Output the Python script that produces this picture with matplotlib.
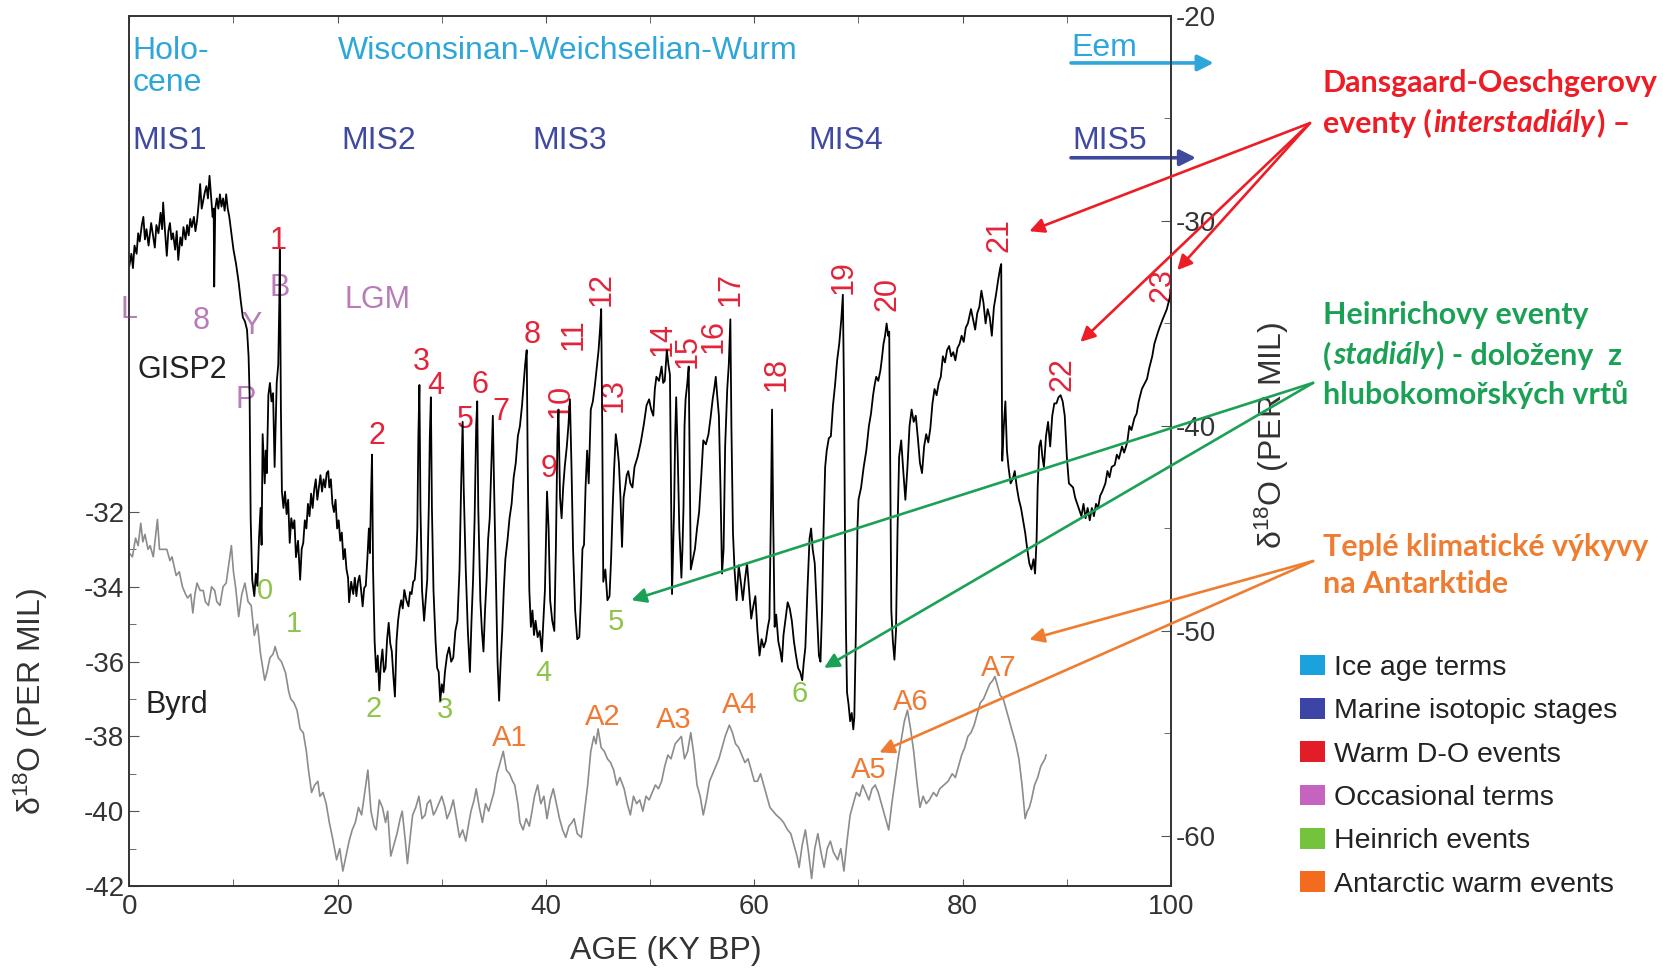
import matplotlib
matplotlib.use("Agg")
import matplotlib.pyplot as plt
from matplotlib.patches import Patch

plt.rcParams['font.family'] = ['Liberation Sans', 'DejaVu Sans']
plt.rcParams['mathtext.fontset'] = 'custom'
plt.rcParams['mathtext.rm'] = 'Liberation Sans'
plt.rcParams['mathtext.default'] = 'rm'
plt.rcParams['axes.unicode_minus'] = False

# GISP2 (Greenland) d18O, right axis; age in ky BP
gisp_age = [0.0, 0.2, 0.35, 0.5, 0.7, 0.85, 1.0, 1.2, 1.35, 1.5, 1.65, 1.85, 2.1, 2.3, 2.45, 2.6, 2.8, 3.0, 3.15, 3.25,
            3.4, 3.6, 3.75, 3.9, 4.05, 4.2, 4.4, 4.55, 4.7, 4.9, 5.05, 5.2, 5.4, 5.55, 5.7, 5.85, 6.0, 6.2, 6.35, 6.5,
            6.65, 6.8, 6.95, 7.1, 7.25, 7.4, 7.55, 7.7, 7.85, 8.0, 8.1, 8.15, 8.25, 8.4, 8.55, 8.7, 8.85, 9.0, 9.15, 9.3,
            9.45, 9.6, 9.8, 10.0, 10.25, 10.5, 10.7, 10.9, 11.1, 11.3, 11.45, 11.55, 11.65, 11.8, 12.0, 12.15, 12.3, 12.45, 12.6, 12.7,
            12.8, 13.0, 13.1, 13.2, 13.35, 13.5, 13.65, 13.8, 13.95, 14.05, 14.15, 14.3, 14.4, 14.45, 14.55, 14.65, 14.8, 14.95, 15.1, 15.25,
            15.4, 15.55, 15.7, 15.85, 16.0, 16.2, 16.4, 16.55, 16.7, 16.85, 17.0, 17.15, 17.3, 17.45, 17.6, 17.75, 17.9, 18.05, 18.2, 18.35,
            18.5, 18.65, 18.8, 18.95, 19.1, 19.2, 19.35, 19.5, 19.65, 19.8, 19.95, 20.1, 20.25, 20.4, 20.55, 20.7, 20.85, 21.0, 21.1, 21.3,
            21.5, 21.65, 21.8, 21.95, 22.1, 22.25, 22.4, 22.55, 22.7, 22.85, 23.0, 23.1, 23.2, 23.3, 23.4, 23.55, 23.7, 23.85, 24.0, 24.15,
            24.3, 24.45, 24.6, 24.75, 24.9, 25.05, 25.2, 25.35, 25.5, 25.65, 25.8, 25.95, 26.1, 26.25, 26.4, 26.6, 26.8, 26.95, 27.1, 27.25,
            27.4, 27.55, 27.65, 27.75, 27.85, 27.95, 28.1, 28.3, 28.45, 28.6, 28.75, 28.85, 28.95, 29.05, 29.2, 29.4, 29.55, 29.7, 29.85, 30.0,
            30.15, 30.3, 30.5, 30.7, 30.9, 31.1, 31.3, 31.5, 31.7, 31.85, 32.0, 32.1, 32.3, 32.5, 32.7, 32.85, 33.0, 33.15, 33.3, 33.4,
            33.5, 33.7, 33.85, 34.0, 34.15, 34.3, 34.45, 34.6, 34.75, 34.9, 35.0, 35.2, 35.35, 35.5, 35.65, 35.8, 35.95, 36.1, 36.3, 36.5,
            36.7, 36.9, 37.1, 37.3, 37.5, 37.7, 37.85, 38.0, 38.15, 38.25, 38.4, 38.55, 38.7, 38.85, 39.0, 39.2, 39.4, 39.6, 39.75, 39.9,
            40.0, 40.1, 40.25, 40.4, 40.6, 40.8, 40.95, 41.1, 41.2, 41.35, 41.5, 41.65, 41.8, 42.0, 42.15, 42.3, 42.45, 42.6, 42.8, 43.0,
            43.2, 43.35, 43.5, 43.65, 43.8, 43.95, 44.1, 44.3, 44.5, 44.7, 44.9, 45.05, 45.2, 45.3, 45.4, 45.5, 45.7, 45.9, 46.1, 46.25,
            46.4, 46.55, 46.7, 46.85, 47.0, 47.15, 47.3, 47.45, 47.6, 47.75, 47.9, 48.1, 48.3, 48.5, 48.8, 49.1, 49.4, 49.65, 49.9, 50.1,
            50.3, 50.45, 50.6, 50.85, 51.1, 51.25, 51.4, 51.6, 51.75, 51.9, 52.0, 52.1, 52.2, 52.3, 52.4, 52.5, 52.65, 52.8, 53.0, 53.1,
            53.2, 53.3, 53.4, 53.55, 53.7, 53.8, 53.9, 54.1, 54.3, 54.5, 54.7, 54.9, 55.1, 55.35, 55.6, 55.8, 56.0, 56.15, 56.3, 56.45,
            56.6, 56.75, 56.9, 57.05, 57.2, 57.4, 57.55, 57.7, 57.8, 57.95, 58.1, 58.3, 58.5, 58.7, 58.9, 59.1, 59.3, 59.5, 59.7, 59.9,
            60.1, 60.3, 60.5, 60.7, 60.9, 61.1, 61.3, 61.45, 61.6, 61.7, 61.8, 61.95, 62.1, 62.3, 62.5, 62.65, 62.8, 63.0, 63.2, 63.4,
            63.6, 63.8, 64.0, 64.2, 64.4, 64.6, 64.75, 64.9, 65.1, 65.3, 65.45, 65.6, 65.8, 66.0, 66.2, 66.35, 66.5, 66.65, 66.8, 66.95,
            67.15, 67.35, 67.55, 67.75, 67.95, 68.15, 68.35, 68.5, 68.6, 68.7, 68.8, 68.9, 69.05, 69.2, 69.35, 69.5, 69.6, 69.75, 69.9, 70.0,
            70.25, 70.5, 70.75, 71.0, 71.2, 71.4, 71.55, 71.7, 71.9, 72.1, 72.25, 72.4, 72.55, 72.7, 72.85, 72.95, 73.05, 73.15, 73.3, 73.45,
            73.6, 73.75, 73.9, 74.1, 74.3, 74.5, 74.7, 74.9, 75.1, 75.3, 75.5, 75.7, 75.9, 76.1, 76.3, 76.5, 76.7, 76.9, 77.1, 77.3,
            77.5, 77.7, 77.9, 78.1, 78.3, 78.5, 78.7, 78.9, 79.1, 79.3, 79.5, 79.7, 79.9, 80.1, 80.3, 80.5, 80.8, 81.0, 81.2, 81.4,
            81.6, 81.8, 82.0, 82.2, 82.4, 82.6, 82.8, 83.0, 83.2, 83.4, 83.6, 83.7, 83.8, 83.95, 84.1, 84.25, 84.4, 84.6, 84.8, 85.0,
            85.2, 85.4, 85.6, 85.8, 86.0, 86.2, 86.4, 86.6, 86.8, 86.95, 87.1, 87.2, 87.35, 87.5, 87.65, 87.8, 88.0, 88.2, 88.4, 88.6,
            88.8, 89.0, 89.2, 89.4, 89.6, 89.8, 90.0, 90.2, 90.4, 90.6, 90.8, 91.0, 91.2, 91.4, 91.6, 91.8, 92.0, 92.2, 92.4, 92.6,
            92.8, 93.0, 93.2, 93.4, 93.7, 93.9, 94.1, 94.3, 94.6, 94.8, 95.0, 95.3, 95.5, 95.8, 96.0, 96.2, 96.5, 96.7, 96.9, 97.2,
            97.4, 97.7, 97.9, 98.2, 98.4, 98.7, 98.9, 99.2, 99.6, 100.0]
gisp_d18o = [-32.2, -31.6, -32.3, -31.2, -31.6, -30.6, -31.0, -30.2, -29.8, -30.9, -30.4, -31.2, -30.1, -30.8, -31.3, -30.2, -30.6, -29.6, -30.4, -29.1,
             -30.3, -31.7, -30.5, -30.1, -30.9, -30.6, -31.4, -30.5, -31.9, -30.8, -31.2, -30.3, -30.9, -30.2, -30.7, -29.9, -30.3, -29.8, -30.5, -30.0,
             -29.2, -28.2, -29.4, -29.0, -28.6, -28.3, -28.9, -27.8, -28.8, -29.8, -29.4, -33.2, -29.4, -28.9, -29.4, -28.7, -29.3, -28.9, -29.5, -28.7,
             -29.4, -29.8, -30.6, -31.4, -32.1, -33.0, -33.9, -34.7, -34.9, -35.3, -36.6, -38.5, -44.5, -47.5, -48.3, -47.2, -47.8, -45.5, -44.0, -45.8,
             -40.4, -42.8, -41.2, -42.3, -38.5, -37.9, -38.8, -38.4, -42.0, -40.0, -37.9, -37.0, -34.0, -31.4, -39.0, -43.2, -44.0, -43.2, -44.3, -43.6,
             -45.7, -44.5, -45.0, -44.6, -46.4, -45.6, -47.5, -46.0, -45.7, -44.6, -45.0, -43.8, -44.4, -43.3, -44.0, -43.1, -42.6, -43.6, -43.0, -42.4,
             -43.2, -42.6, -43.0, -42.3, -42.2, -43.0, -42.6, -43.8, -44.2, -43.6, -45.0, -44.6, -45.6, -45.2, -46.5, -46.0, -47.0, -47.4, -48.6, -47.6,
             -48.2, -47.4, -48.3, -47.6, -47.3, -48.0, -48.8, -47.9, -47.8, -46.5, -45.0, -46.2, -43.5, -41.4, -47.0, -50.5, -52.0, -51.2, -52.9, -51.6,
             -50.9, -52.0, -51.8, -50.4, -49.6, -50.6, -51.0, -52.2, -53.2, -50.5, -49.5, -48.9, -48.5, -48.9, -48.0, -48.5, -48.8, -48.1, -48.2, -47.6,
             -47.5, -46.5, -45.0, -40.5, -38.0, -44.0, -48.0, -49.5, -48.5, -47.5, -44.0, -40.5, -38.6, -44.0, -48.0, -50.5, -51.8, -52.0, -53.4, -52.6,
             -53.0, -52.0, -51.2, -50.8, -51.5, -51.3, -50.0, -49.5, -47.0, -43.0, -39.8, -43.0, -47.0, -50.0, -52.0, -49.5, -47.5, -44.5, -40.0, -38.8,
             -44.0, -48.5, -50.0, -51.0, -49.0, -47.5, -45.5, -44.5, -42.0, -39.5, -42.5, -47.5, -51.5, -53.4, -51.5, -50.0, -48.0, -46.5, -45.6, -44.5,
             -43.8, -42.5, -41.8, -40.5, -40.0, -39.0, -38.0, -37.0, -36.3, -42.0, -48.0, -49.8, -49.0, -50.2, -49.5, -50.3, -50.0, -51.0, -49.5, -48.0,
             -45.5, -43.2, -45.0, -48.5, -49.5, -50.0, -46.0, -40.5, -39.2, -43.5, -44.5, -43.0, -42.0, -41.0, -40.0, -38.7, -42.0, -46.0, -49.0, -50.4,
             -50.3, -48.5, -46.0, -45.8, -43.0, -41.2, -42.8, -39.2, -38.8, -38.0, -37.0, -36.3, -35.2, -34.3, -40.0, -47.6, -47.0, -48.5, -48.3, -46.5,
             -44.0, -42.0, -40.4, -41.0, -41.8, -43.5, -45.9, -43.5, -43.0, -42.4, -42.2, -42.8, -43.0, -42.0, -41.5, -40.8, -39.9, -39.0, -38.7, -39.2,
             -39.5, -38.2, -37.6, -37.8, -37.1, -37.9, -37.8, -36.3, -37.0, -37.5, -43.0, -48.2, -46.0, -44.0, -40.5, -38.6, -41.5, -45.0, -47.4, -46.0,
             -44.0, -40.0, -38.7, -38.0, -37.1, -42.0, -47.0, -46.5, -46.0, -45.0, -44.2, -42.5, -40.7, -40.9, -40.4, -39.6, -38.7, -38.2, -37.6, -38.6,
             -39.5, -43.0, -47.2, -46.0, -41.0, -38.2, -37.0, -34.8, -40.0, -45.2, -47.0, -48.5, -46.8, -47.6, -48.5, -47.5, -46.7, -48.0, -49.4, -48.8,
             -48.3, -50.0, -51.2, -50.4, -50.8, -50.5, -49.8, -49.4, -44.0, -39.2, -44.0, -49.8, -49.2, -50.5, -51.0, -51.5, -50.2, -49.4, -48.6, -48.9,
             -49.5, -50.5, -51.2, -51.8, -52.0, -52.4, -51.5, -50.8, -48.0, -45.5, -45.0, -46.0, -46.7, -49.0, -51.2, -51.5, -49.0, -45.0, -42.0, -41.2,
             -40.6, -40.5, -39.0, -38.0, -36.8, -36.0, -34.8, -33.6, -38.0, -45.0, -50.0, -53.0, -53.6, -54.4, -54.0, -54.8, -54.2, -50.0, -45.0, -43.6,
             -43.0, -42.0, -41.2, -40.0, -39.4, -38.5, -38.0, -37.6, -37.8, -37.3, -36.7, -36.0, -35.6, -35.0, -35.6, -35.4, -42.0, -49.0, -50.5, -51.4,
             -50.0, -45.0, -41.5, -40.7, -42.2, -43.6, -42.0, -40.0, -39.2, -39.8, -39.5, -40.6, -41.8, -42.3, -41.0, -40.4, -40.8, -40.1, -38.9, -38.2,
             -38.5, -37.9, -37.6, -36.6, -36.9, -36.3, -36.1, -36.6, -36.4, -36.8, -36.2, -36.0, -35.6, -35.9, -35.2, -35.0, -34.3, -34.8, -35.3, -34.5,
             -34.2, -33.4, -34.0, -35.0, -34.3, -34.7, -35.6, -34.2, -33.6, -32.9, -32.3, -32.1, -41.7, -40.0, -38.8, -41.2, -42.0, -42.8, -42.6, -42.2,
             -43.0, -43.6, -44.0, -44.6, -45.2, -46.0, -46.7, -47.0, -46.5, -47.2, -45.5, -43.0, -41.0, -40.7, -41.5, -42.0, -40.5, -39.8, -41.0, -39.5,
             -38.9, -38.9, -38.6, -38.5, -38.8, -39.5, -41.5, -42.8, -42.9, -43.0, -43.5, -43.8, -44.1, -44.4, -43.8, -44.5, -44.0, -44.6, -44.0, -44.4,
             -43.8, -44.0, -43.4, -43.2, -42.8, -42.2, -42.5, -42.0, -41.9, -41.4, -41.6, -41.0, -41.3, -40.8, -40.0, -40.2, -39.6, -39.4, -38.8, -38.2,
             -38.0, -37.7, -37.2, -36.6, -36.0, -35.5, -35.2, -34.8, -34.3, -33.5]

# Byrd (Antarctica) d18O, left axis
byrd_age = [0.0, 0.3, 0.6, 0.85, 1.1, 1.3, 1.5, 1.8, 2.0, 2.3, 2.7, 2.9, 3.2, 3.6, 3.9, 4.1, 4.5, 4.8, 5.1, 5.4,
            5.6, 5.9, 6.1, 6.3, 6.5, 6.8, 7.1, 7.3, 7.6, 7.9, 8.2, 8.4, 8.7, 9.0, 9.3, 9.5, 9.8, 10.0, 10.2, 10.5,
            10.8, 11.1, 11.4, 11.7, 12.0, 12.3, 12.6, 13.0, 13.2, 13.5, 13.8, 14.0, 14.3, 14.6, 15.0, 15.3, 15.5, 15.8, 16.1, 16.4,
            16.7, 17.0, 17.2, 17.5, 17.8, 18.1, 18.3, 18.6, 18.9, 19.2, 19.5, 19.9, 20.2, 20.5, 20.8, 21.1, 21.4, 21.7, 22.0, 22.3,
            22.6, 22.9, 23.2, 23.5, 23.7, 24.0, 24.3, 24.6, 24.8, 25.1, 25.4, 25.7, 26.0, 26.2, 26.5, 26.7, 27.0, 27.2, 27.5, 27.8,
            28.1, 28.4, 28.6, 28.9, 29.2, 29.4, 29.7, 30.0, 30.3, 30.5, 30.8, 31.1, 31.4, 31.7, 32.0, 32.3, 32.6, 32.8, 33.1, 33.3,
            33.6, 33.9, 34.2, 34.5, 34.8, 35.0, 35.3, 35.6, 35.9, 36.2, 36.5, 36.8, 37.0, 37.3, 37.5, 37.8, 38.1, 38.4, 38.6, 38.9,
            39.2, 39.5, 39.8, 40.1, 40.4, 40.7, 41.0, 41.3, 41.6, 41.9, 42.2, 42.5, 42.7, 43.0, 43.4, 43.7, 44.0, 44.3, 44.6, 44.8,
            45.0, 45.3, 45.6, 45.9, 46.2, 46.5, 46.8, 47.1, 47.5, 47.8, 48.1, 48.4, 48.7, 49.0, 49.3, 49.6, 49.9, 50.2, 50.5, 50.8,
            51.1, 51.4, 51.7, 52.0, 52.4, 52.7, 53.0, 53.3, 53.6, 53.9, 54.2, 54.5, 54.8, 55.1, 55.4, 55.7, 56.0, 56.3, 56.6, 56.9,
            57.2, 57.6, 57.9, 58.2, 58.5, 58.8, 59.1, 59.4, 59.7, 60.0, 60.3, 60.6, 60.9, 61.2, 61.5, 61.8, 62.1, 62.5, 62.8, 63.2,
            63.5, 63.8, 64.1, 64.3, 64.6, 64.9, 65.2, 65.5, 65.8, 66.1, 66.4, 66.7, 67.0, 67.3, 67.6, 68.0, 68.3, 68.6, 68.9, 69.2,
            69.5, 69.8, 70.1, 70.4, 70.7, 71.0, 71.3, 71.6, 71.9, 72.2, 72.5, 72.9, 73.2, 73.5, 73.8, 74.1, 74.4, 74.7, 75.0, 75.3,
            75.6, 75.9, 76.2, 76.5, 76.8, 77.2, 77.5, 77.8, 78.2, 78.6, 79.0, 79.3, 79.6, 79.9, 80.2, 80.5, 80.8, 81.1, 81.4, 81.7,
            82.0, 82.3, 82.6, 82.9, 83.1, 83.4, 83.6, 83.9, 84.2, 84.5, 84.8, 85.1, 85.4, 85.7, 85.9, 86.0, 86.2, 86.4, 86.6, 86.9,
            87.2, 87.5, 87.9, 88.0]
byrd_d18o = [-33.1, -33.2, -32.7, -32.9, -32.3, -32.8, -32.6, -33.0, -32.9, -33.2, -32.2, -33.0, -33.0, -33.0, -33.3, -33.2, -33.7, -33.6, -34.0, -34.2,
             -34.3, -34.2, -34.7, -34.2, -33.9, -34.1, -34.1, -34.4, -34.5, -34.0, -34.1, -34.4, -34.5, -34.0, -33.9, -33.5, -32.9, -33.6, -34.0, -34.8,
             -34.2, -33.9, -34.4, -34.5, -35.3, -35.0, -35.8, -36.5, -36.3, -35.9, -35.8, -35.6, -35.9, -36.0, -36.3, -36.8, -37.0, -37.1, -37.3, -37.8,
             -37.9, -38.4, -38.9, -39.5, -39.3, -39.2, -39.6, -39.5, -39.8, -40.3, -40.7, -41.3, -41.0, -41.6, -41.2, -40.8, -40.5, -40.3, -39.9, -40.1,
             -39.5, -38.9, -40.0, -40.4, -40.5, -39.7, -39.9, -40.3, -40.0, -41.2, -40.9, -40.6, -40.2, -40.0, -40.8, -41.4, -40.6, -40.1, -39.9, -39.6,
             -40.2, -40.1, -39.8, -39.7, -40.1, -40.0, -39.8, -39.6, -39.9, -40.2, -40.0, -39.7, -40.2, -40.7, -40.5, -40.8, -40.3, -40.0, -39.7, -39.4,
             -39.9, -40.3, -39.8, -40.0, -39.7, -39.5, -39.0, -38.7, -38.4, -38.9, -39.0, -39.2, -39.3, -39.8, -40.3, -40.5, -40.2, -40.4, -40.1, -39.6,
             -39.3, -39.8, -39.6, -40.2, -39.7, -39.4, -39.8, -40.2, -40.5, -40.7, -40.4, -40.3, -40.2, -40.6, -40.7, -40.0, -39.3, -38.4, -38.0, -38.2,
             -37.8, -38.3, -38.4, -38.6, -38.7, -38.9, -39.3, -39.1, -39.4, -39.8, -40.1, -39.6, -39.8, -39.7, -40.0, -39.6, -39.7, -39.5, -39.3, -39.4,
             -39.2, -38.8, -38.5, -38.6, -38.2, -38.1, -38.0, -38.6, -38.4, -37.9, -38.5, -39.3, -39.6, -40.1, -39.7, -39.2, -39.0, -38.8, -38.6, -38.3,
             -38.0, -37.7, -37.9, -38.2, -38.3, -38.5, -38.7, -38.6, -38.9, -39.2, -39.2, -39.0, -39.3, -39.6, -39.9, -40.0, -40.1, -40.2, -40.3, -40.5,
             -40.6, -40.9, -41.2, -41.5, -40.9, -40.5, -41.1, -41.8, -41.0, -40.6, -41.1, -41.5, -41.0, -40.8, -41.1, -41.3, -41.0, -41.6, -40.8, -40.1,
             -39.8, -39.5, -39.6, -39.3, -39.5, -39.7, -39.4, -39.3, -39.5, -39.8, -40.1, -40.5, -39.8, -39.2, -38.6, -38.1, -37.6, -37.3, -37.8, -38.4,
             -39.2, -39.9, -39.6, -39.8, -39.7, -39.5, -39.6, -39.4, -39.3, -39.2, -39.0, -39.1, -38.8, -38.5, -38.3, -38.0, -37.9, -37.7, -37.4, -37.1,
             -37.0, -36.8, -36.6, -36.5, -36.4, -36.7, -36.9, -37.0, -37.3, -37.6, -37.9, -38.2, -38.6, -39.3, -39.9, -40.2, -40.0, -39.9, -39.7, -39.3,
             -39.1, -38.8, -38.6, -38.5]

# Warm Dansgaard-Oeschger events (label, age, left-axis height)
do_labels = ['1', '2', '3', '4', '5', '6', '7', '8', '9', '10', '11', '12', '13', '14', '15', '16', '17', '18', '19', '20', '21', '22', '23']
do_x = [14.27, 23.75, 28.03, 29.46, 32.21, 33.64, 35.68, 38.63, 40.27, 41.39, 42.61, 45.36, 46.48, 51.17, 53.62, 56.07, 57.7,
        62.18, 68.6, 72.78, 83.49, 89.6, 99.18]
do_y = [-24.75, -29.96, -27.98, -28.63, -29.54, -28.6, -29.34, -27.27, -30.84, -29.03, -27.24, -26.05, -28.88, -27.38, -27.69,
        -27.3, -26.05, -28.32, -25.71, -26.16, -24.61, -28.32, -25.94]

# Heinrich events
h_labels = ['0', '1', '2', '3', '4', '5', '6']
h_x = [13.05, 15.8, 23.45, 30.28, 39.76, 46.69, 64.32]
h_y = [-34.12, -35.0, -37.27, -37.3, -36.31, -34.95, -36.87]

# Antarctic warm events
a_labels = ['A1', 'A2', 'A3', 'A4', 'A5', 'A6', 'A7']
a_x = [36.49, 45.46, 52.29, 58.61, 70.95, 75.03, 83.49]
a_y = [-38.03, -37.47, -37.55, -37.16, -38.91, -37.07, -36.16]

# Occasional terms
occ_labels = ['L', '8', 'Y', 'P', 'B', 'LGM']
occ_x = [0.0, 6.93, 11.72, 11.21, 14.47, 23.85]
occ_y = [-26.59, -26.9, -27.04, -29.0, -26.02, -26.33]

# Marine isotope stages
mis_labels = ['MIS1', 'MIS2', 'MIS3', 'MIS4', 'MIS5']
mis_x = [0.31, 20.4, 38.7, 65.2, 90.5]

legend_labels = ['Ice age terms', 'Marine isotopic stages', 'Warm D-O events', 'Occasional terms',
                 'Heinrich events', 'Antarctic warm events']
legend_colors = ['#1ba1dc', '#3c45a6', '#e31d27', '#c564bf', '#73c33c', '#f26b1f']

c_ice = '#2ea6da'
c_mis = '#3f4a9e'
c_do = '#e2243a'
c_occ = '#b87cb8'
c_h = '#8dc44a'
c_a = '#ef7a35'
c_red = '#ee1c25'
c_green = '#1aa155'
c_orange = '#ee7d31'

fig = plt.figure(figsize=(16.63, 9.72), dpi=100)
ax = fig.add_axes([0.07775, 0.08848, 0.6264, 0.8951])
ax2 = ax.twinx()

ax.plot(byrd_age, byrd_d18o, color='#8c8c8c', lw=1.2)
ax2.plot(gisp_age, gisp_d18o, color='black', lw=1.3)

ax.set_xlim(0, 100)
ax.set_ylim(-42, -18.74)
ax2.set_ylim(-62.44, -20)

ax.set_xticks([0, 20, 40, 60, 80, 100])
ax.set_xticks([10, 30, 50, 70, 90], minor=True)
ax.set_yticks([-42, -40, -38, -36, -34, -32])
ax.set_yticks([-41, -39, -37, -35, -33], minor=True)
ax2.set_yticks([-20, -30, -40, -50, -60])
ax2.set_yticks([-25, -35, -45, -55], minor=True)

for a in (ax, ax2):
    a.tick_params(which='both', direction='in', labelsize=20, labelcolor='#333333', color='#555555')
    a.tick_params(which='major', length=7)
    a.tick_params(which='minor', length=5)
    for sp in a.spines.values():
        sp.set_color('#333333')
        sp.set_linewidth(1.2)
ax.tick_params(axis='x', which='both', top=True, length=5, pad=6)

ax.set_xlabel('AGE (KY BP)', fontsize=23, color='#333333')
ax.xaxis.set_label_coords(0.515, -0.058)
ax.set_ylabel(r'δ$^{18}$O (PER MIL)', fontsize=23, color='#333333')
ax.yaxis.set_label_coords(-0.076, 0.212)
ax2.set_ylabel(r'δ$^{18}$O (PER MIL)', fontsize=23, color='#333333')
ax2.yaxis.set_label_coords(1.078, 0.518)

# period names and stages
ax.text(0.31, -19.68, 'Holo-', color=c_ice, fontsize=23, va='center')
ax.text(0.31, -20.53, 'cene', color=c_ice, fontsize=23, va='center')
ax.text(19.98, -19.68, 'Wisconsinan-Weichselian-Wurm', color=c_ice, fontsize=23, va='center')
ax.text(90.4, -19.6, 'Eem', color=c_ice, fontsize=23, va='center')
for lab, x in zip(mis_labels, mis_x):
    ax.text(x, -22.08, lab, color=c_mis, fontsize=23, va='center')

arrow_thick = dict(arrowstyle='-|>', lw=2.6, mutation_scale=24, shrinkA=0, shrinkB=0)
ax.annotate('', xy=(104.1, 0.946), xycoords=('data', 'axes fraction'), xytext=(90.4, 0.946),
            textcoords=('data', 'axes fraction'), arrowprops=dict(color=c_ice, **arrow_thick), annotation_clip=False)
ax.annotate('', xy=(102.4, 0.837), xycoords=('data', 'axes fraction'), xytext=(90.4, 0.837),
            textcoords=('data', 'axes fraction'), arrowprops=dict(color=c_mis, **arrow_thick), annotation_clip=False)

for lab, x, y in zip(occ_labels, occ_x, occ_y):
    ax.text(x, y, lab, color=c_occ, fontsize=22, ha='center', va='center')
ax.text(5.1, -28.2, 'GISP2', color='#222222', fontsize=22, ha='center', va='center')
ax.text(4.59, -37.16, 'Byrd', color='#222222', fontsize=22, ha='center', va='center')

for lab, x, y in zip(do_labels, do_x, do_y):
    rot = 90 if len(lab) > 1 else 0
    ax.text(x, y, lab, color=c_do, fontsize=22, ha='center', va='center', rotation=rot, zorder=5)
for lab, x, y in zip(h_labels, h_x, h_y):
    ax.text(x, y, lab, color=c_h, fontsize=21, ha='center', va='center', zorder=5)
for lab, x, y in zip(a_labels, a_x, a_y):
    ax.text(x, y, lab, color=c_a, fontsize=21, ha='center', va='center', zorder=5)

# explanatory Czech notes with arrows
arrow_thin = dict(arrowstyle='-|>', lw=1.9, mutation_scale=22, shrinkA=0, shrinkB=0)
for hx, hy in [(86.4, -30.5), (91.3, -35.9), (100.6, -32.4)]:
    ax2.annotate('', xy=(hx, hy), xycoords='data', xytext=(0.7877, 0.8734), textcoords='figure fraction',
                 arrowprops=dict(color=c_red, **arrow_thin), annotation_clip=False)
for hx, hy in [(48.2, -48.5), (66.7, -51.8)]:
    ax2.annotate('', xy=(hx, hy), xycoords='data', xytext=(0.7896, 0.6061), textcoords='figure fraction',
                 arrowprops=dict(color=c_green, **arrow_thin), annotation_clip=False)
for hx, hy in [(86.4, -35.41), (72.0, -38.43)]:
    ax2.annotate('', xy=(hx, hy), xycoords=ax.transData, xytext=(0.7896, 0.4228), textcoords='figure fraction',
                 arrowprops=dict(color=c_orange, **arrow_thin), annotation_clip=False)

renderer = fig.canvas.get_renderer()
czech_font = ['Lato', 'DejaVu Sans']


def text_runs(x, y, runs, color, size=21.9):
    for s, style in runs:
        t = fig.text(x, y, s, color=color, fontsize=size, fontweight='bold', fontstyle=style,
                     family=czech_font, ha='left', va='center')
        bb = t.get_window_extent(renderer)
        x = fig.transFigure.inverted().transform((bb.x1 + 2, 0))[0]


tx = 0.7953
text_runs(tx, 0.9149, [('Dansgaard-Oeschgerovy', 'normal')], c_red)
text_runs(tx, 0.8734, [('eventy (', 'normal'), ('interstadiály', 'italic'), (') –', 'normal')], c_red)
text_runs(tx, 0.6759, [('Heinrichovy eventy', 'normal')], c_green)
text_runs(tx, 0.6345, [('(', 'normal'), ('stadiály', 'italic'), (') - doloženy  z', 'normal')], c_green)
text_runs(tx, 0.5941, [('hlubokomořských vrtů', 'normal')], c_green)
text_runs(tx, 0.4370, [('Teplé klimatické výkyvy', 'normal')], c_orange)
text_runs(tx, 0.3988, [('na Antarktide', 'normal')], c_orange)

handles = [Patch(facecolor=c, edgecolor='none') for c in legend_colors]
fig.legend(handles, legend_labels, loc='upper left', bbox_to_anchor=(0.7817, 0.3265), frameon=False,
           fontsize=20.5, handlelength=0.88, handleheight=0.74, handletextpad=0.3, labelspacing=0.6,
           borderpad=0, borderaxespad=0, labelcolor='#222222')

fig.savefig('out.png', dpi=100)
